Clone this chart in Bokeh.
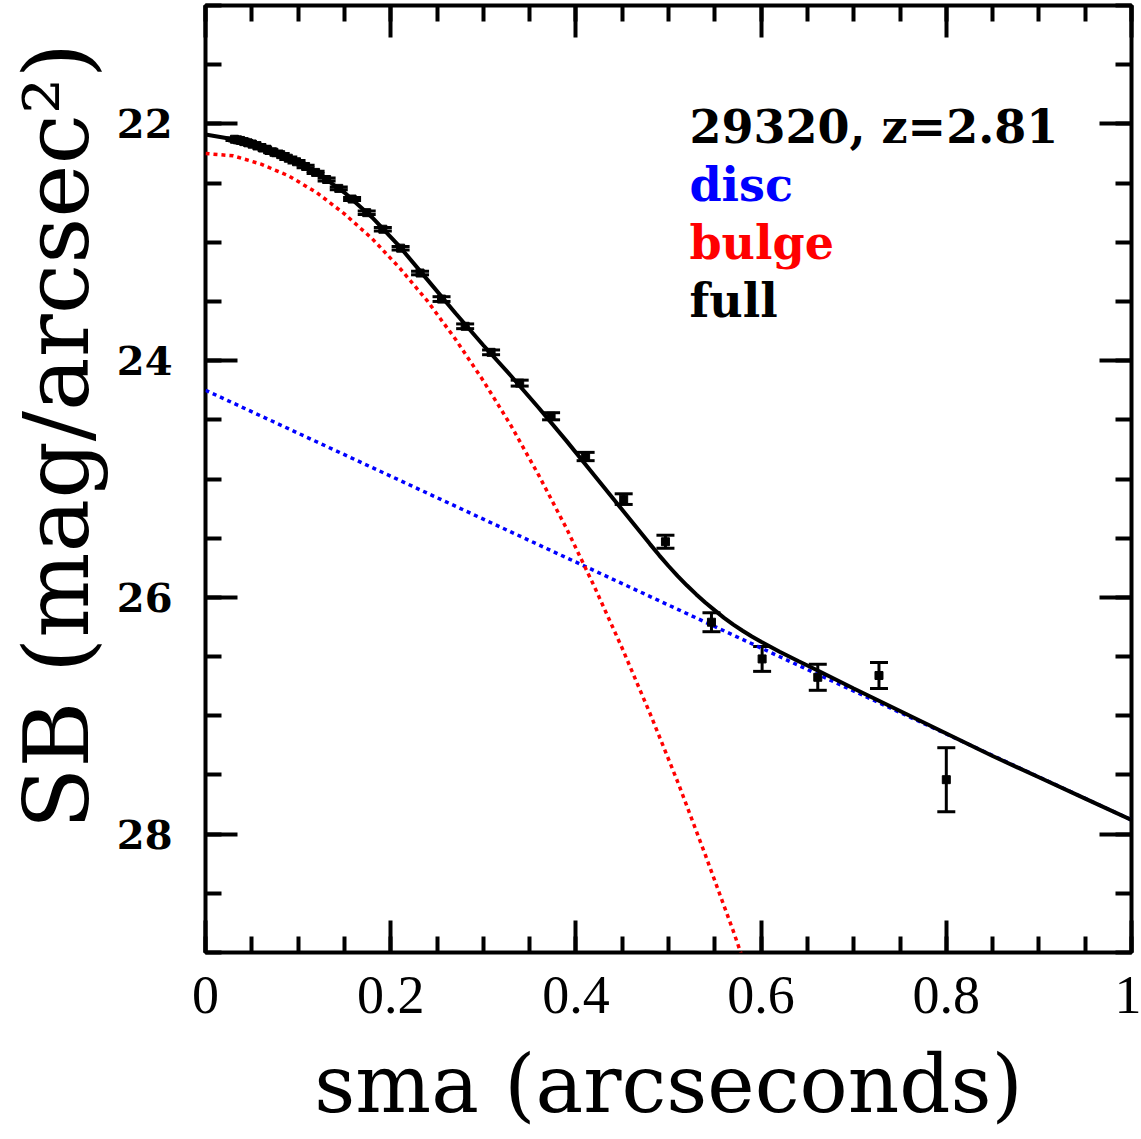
from bokeh.plotting import figure
from bokeh.models import (Range1d, FixedTicker, LinearAxis, Label, Whisker,
                          TeeHead, ColumnDataSource, CustomJSTickFormatter)
from bokeh.embed import file_html
from bokeh.resources import INLINE

# Isophote surface-brightness profile (sma in arcsec, SB in mag/arcsec^2)
sma = [0.8000, 0.7273, 0.6612, 0.6011, 0.5464, 0.4967, 0.4516, 0.4105,
       0.3732, 0.3393, 0.3084, 0.2804, 0.2549, 0.2317, 0.2107, 0.1915,
       0.1741, 0.1583, 0.1439, 0.1308, 0.1189, 0.1081, 0.0983, 0.0894,
       0.0812, 0.0739, 0.0671, 0.0610, 0.0555, 0.0504, 0.0459, 0.0417,
       0.0379, 0.0345, 0.0313]
sb = [27.54, 26.66, 26.675, 26.52, 26.21, 25.53, 25.17, 24.81,
      24.47, 24.19, 23.93, 23.71, 23.48, 23.26, 23.05, 22.89,
      22.75, 22.635, 22.545, 22.47, 22.41, 22.36, 22.32, 22.29,
      22.26, 22.24, 22.22, 22.20, 22.185, 22.17, 22.16, 22.15,
      22.14, 22.135, 22.13]
sb_err = [0.27, 0.11, 0.11, 0.105, 0.08, 0.055, 0.045, 0.035,
          0.03, 0.025, 0.02, 0.02, 0.02, 0.015, 0.015, 0.015,
          0.015, 0.012, 0.012, 0.012, 0.01, 0.01, 0.01, 0.01,
          0.01, 0.01, 0.01, 0.01, 0.01, 0.01, 0.01, 0.01,
          0.01, 0.01, 0.01]

# Model components
model_x = [0.00, 0.03, 0.06, 0.09, 0.12, 0.15, 0.18, 0.21, 0.24, 0.27,
           0.30, 0.33, 0.36, 0.39, 0.42, 0.45, 0.48, 0.49, 0.50, 0.51,
           0.52, 0.53, 0.54, 0.55, 0.56, 0.57, 0.58, 0.59, 0.60, 0.62,
           0.64, 0.66, 0.70, 0.75, 0.80, 0.85, 0.90, 0.95, 1.00]
full_sb = [22.09, 22.13, 22.20, 22.29, 22.41, 22.58, 22.79, 23.04, 23.32, 23.60,
           23.87, 24.13, 24.40, 24.68, 24.97, 25.26, 25.55, 25.645, 25.735, 25.82,
           25.90, 25.975, 26.045, 26.11, 26.173, 26.23, 26.282, 26.33, 26.375, 26.459,
           26.538, 26.614, 26.77, 26.96, 27.15, 27.34, 27.52, 27.70, 27.88]
bulge_x = [0.00, 0.03, 0.06, 0.09, 0.12, 0.15, 0.18, 0.21, 0.24, 0.27,
           0.30, 0.33, 0.36, 0.39, 0.42, 0.45, 0.48, 0.51, 0.54, 0.57, 0.585]
bulge_sb = [22.25, 22.27, 22.34, 22.44, 22.58, 22.76, 22.97, 23.22, 23.50, 23.82,
            24.17, 24.55, 24.97, 25.42, 25.91, 26.43, 26.98, 27.56, 28.18, 28.82, 29.16]
disc_x = [0.0, 1.0]
disc_sb = [24.25, 27.88]

legend_lines = ["29320,  z=2.81", "disc", "bulge", "full"]
legend_colors = ["black", "blue", "red", "black"]

p = figure(width=1141, height=1139,
           min_border_left=203, min_border_right=10,
           min_border_top=5, min_border_bottom=187,
           x_range=Range1d(0, 1), y_range=Range1d(29, 21),
           output_backend="svg", toolbar_location=None)
p.background_fill_color = "white"
p.border_fill_color = "white"
p.grid.visible = False
p.outline_line_color = "black"
p.outline_line_width = 4

x_major = [0, 0.2, 0.4, 0.6, 0.8, 1.0]
x_minor = [round(0.05 * i, 2) for i in range(21)]
y_major = [22, 24, 26, 28]
y_minor = [21 + 0.5 * i for i in range(17)]

def style_axis(ax, major, minor):
    ax.ticker = FixedTicker(ticks=major, minor_ticks=minor)
    ax.axis_line_color = None
    ax.major_tick_in = 32
    ax.major_tick_out = 0
    ax.minor_tick_in = 16
    ax.minor_tick_out = 0
    ax.major_tick_line_width = 4
    ax.minor_tick_line_width = 4
    ax.major_tick_line_color = "black"
    ax.minor_tick_line_color = "black"

xa = p.xaxis[0]
style_axis(xa, x_major, x_minor)
xa.major_label_overrides = {0: "0", 0.2: "0.2", 0.4: "0.4", 0.6: "0.6",
                            0.8: "0.8", 1.0: "1"}
xa.major_label_text_font = "Liberation Serif"
xa.major_label_text_font_size = "54px"
xa.major_label_text_color = "black"
xa.major_label_standoff = 24
xa.axis_label = "sma (arcseconds)"
xa.axis_label_text_font = "DejaVu Serif"
xa.axis_label_text_font_style = "normal"
xa.axis_label_text_font_size = "80px"
xa.axis_label_text_color = "black"
xa.axis_label_standoff = 22

ya = p.yaxis[0]
style_axis(ya, y_major, y_minor)
ya.major_label_text_font = "DejaVu Serif"
ya.major_label_text_font_style = "bold"
ya.major_label_text_font_size = "40px"
ya.major_label_text_color = "black"
ya.major_label_standoff = 33
ya.major_label_orientation = "horizontal"
# leading no-break spaces lift the rotated title above the frame centre
ya.axis_label = "\u00a0\u00a0\u00a0SB (mag/arcsec\u00b2)"
ya.axis_label_text_font = "DejaVu Serif"
ya.axis_label_text_font_style = "normal"
ya.axis_label_text_font_size = "90px"
ya.axis_label_text_color = "black"
ya.axis_label_standoff = 5

blank = CustomJSTickFormatter(code="return ''")

top = LinearAxis(formatter=blank)
style_axis(top, x_major, x_minor)
top.major_label_standoff = 0
top.major_label_text_font_size = "1px"
p.add_layout(top, "above")

right = LinearAxis(formatter=blank)
style_axis(right, y_major, y_minor)
right.major_label_standoff = 0
right.major_label_text_font_size = "1px"
p.add_layout(right, "right")

# model curves
p.line(disc_x, disc_sb, line_color="blue", line_width=3.5, line_dash="4 4")
p.line(bulge_x, bulge_sb, line_color="red", line_width=3.5, line_dash="4 4")
p.line(model_x, full_sb, line_color="black", line_width=4)

# measured profile with errors
src = ColumnDataSource(dict(
    x=sma, y=sb,
    upper=[v + e for v, e in zip(sb, sb_err)],
    lower=[v - e for v, e in zip(sb, sb_err)],
))
p.add_layout(Whisker(source=src, base="x", upper="upper", lower="lower",
                     dimension="height", line_color="black", line_width=3,
                     upper_head=TeeHead(size=18, line_width=3, line_color="black"),
                     lower_head=TeeHead(size=18, line_width=3, line_color="black")))
p.scatter("x", "y", source=src, marker="square", size=8,
          fill_color="black", line_color="black")

# annotation block
for i, (txt, col) in enumerate(zip(legend_lines, legend_colors)):
    p.add_layout(Label(x=0.5226, y=22.03 + 0.49 * i, text=txt,
                       text_color=col, text_font="DejaVu Serif",
                       text_font_style="bold", text_font_size="46px",
                       text_baseline="alphabetic", text_align="left"))

open("out.html", "w").write(file_html(p, INLINE))
